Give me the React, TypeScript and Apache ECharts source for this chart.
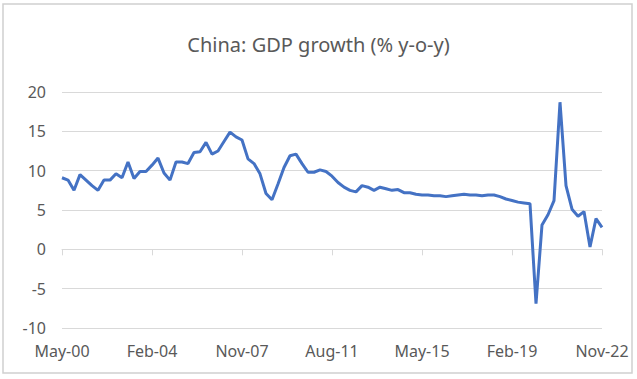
import React, { useEffect, useRef } from "react";
import * as echarts from "echarts";

const title = "China: GDP growth (% y-o-y)";
const months = ["May", "Aug", "Nov", "Feb"];
const startYear = 2000;
const gdpGrowth = [
  9.1, 8.8, 7.5, 9.5, 8.8, 8.1, 7.5, 8.8, 8.8, 9.6,
  9.1, 11.1, 9.0, 9.9, 9.9, 10.7, 11.6, 9.7, 8.8, 11.1,
  11.1, 10.9, 12.3, 12.4, 13.6, 12.1, 12.5, 13.7, 14.9, 14.3,
  13.9, 11.5, 10.9, 9.6, 7.1, 6.3, 8.3, 10.4, 11.9, 12.1,
  10.9, 9.8, 9.8, 10.1, 9.9, 9.3, 8.5, 7.9, 7.5, 7.3,
  8.1, 7.9, 7.5, 7.9, 7.7, 7.5, 7.6, 7.2, 7.2, 7.0,
  6.9, 6.9, 6.8, 6.8, 6.7, 6.8, 6.9, 7.0, 6.9, 6.9,
  6.8, 6.9, 6.9, 6.7, 6.4, 6.2, 6.0, 5.9, 5.8, -6.9,
  3.1, 4.4, 6.2, 18.7, 8.1, 5.1, 4.2, 4.8, 0.3, 3.9,
  2.8,
];
const yTicks = { min: -10, max: 20, interval: 5 };

// quarterly category labels: May-00, Aug-00, Nov-00, Feb-01, ...
const categories = gdpGrowth.map((_, i) => {
  const m = months[i % 4];
  const yr = startYear + Math.floor((i + 1) / 4);
  return `${m}-${String(yr % 100).padStart(2, "0")}`;
});

const FONT = "Noto Sans";
const TEXT = "#595959";
const GRID = "#d9d9d9";

export default function App() {
  const ref = useRef<HTMLDivElement>(null);
  useEffect(() => {
    if (!ref.current) return;
    const chart = echarts.init(ref.current, undefined, { renderer: "svg" });
    chart.setOption({
      animation: false,
      backgroundColor: "#ffffff",
      textStyle: { fontFamily: FONT },
      title: {
        text: title,
        left: "center",
        top: 29,
        textStyle: { color: TEXT, fontSize: 20, fontWeight: "normal", fontFamily: FONT },
      },
      graphic: [
        {
          type: "rect",
          shape: { x: 3, y: 4, width: 629, height: 369 },
          style: { fill: "none", stroke: "#d0d0d0", lineWidth: 1.5 },
          silent: true,
        },
      ],
      grid: { left: 62, right: 35, top: 92, bottom: 51, containLabel: false },
      xAxis: [
        {
          type: "category",
          data: categories,
          boundaryGap: false,
          axisLine: { show: true, onZero: true, lineStyle: { color: GRID, width: 1 } },
          axisTick: { show: true, interval: 14, length: 6, lineStyle: { color: GRID } },
          axisLabel: { show: false },
          splitLine: { show: false },
        },
        {
          type: "category",
          data: categories,
          position: "bottom",
          boundaryGap: false,
          axisLine: { show: false, onZero: false },
          axisTick: { show: false },
          axisLabel: { interval: 14, color: TEXT, fontSize: 16, margin: 15, fontFamily: FONT },
          splitLine: { show: false },
        },
      ],
      yAxis: {
        type: "value",
        min: yTicks.min,
        max: yTicks.max,
        interval: yTicks.interval,
        axisLine: { show: false },
        axisTick: { show: false },
        axisLabel: { color: TEXT, fontSize: 16, margin: 16, fontFamily: FONT },
        splitLine: { lineStyle: { color: GRID, width: 1 } },
      },
      series: [
        {
          type: "line",
          data: gdpGrowth,
          xAxisIndex: 0,
          showSymbol: false,
          symbol: "none",
          lineStyle: { color: "#4472C4", width: 3 },
          itemStyle: { color: "#4472C4" },
        },
      ],
    });
    return () => chart.dispose();
  }, []);
  return (
    <div
      ref={ref}
      style={{ position: "absolute", left: 0, top: 0, width: 637, height: 379 }}
    />
  );
}
